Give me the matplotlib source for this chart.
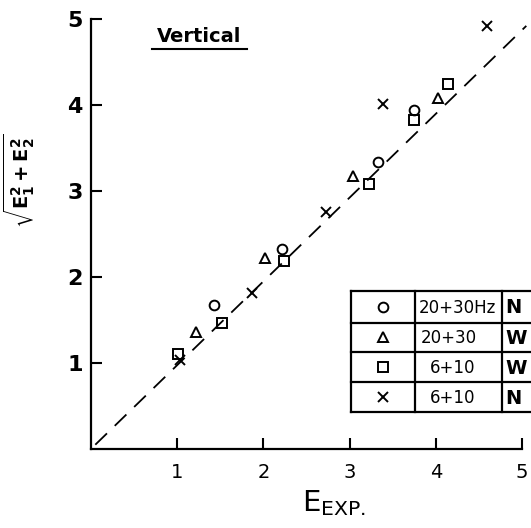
import matplotlib
matplotlib.use("Agg")
import matplotlib.pyplot as plt
from matplotlib.lines import Line2D

# measured values (E_EXP., sqrt(E1^2+E2^2)) for each run
circle_x = [1.43, 2.21, 3.33, 3.75]
circle_y = [1.67, 2.33, 3.34, 3.94]
tri_x = [1.22, 2.02, 3.04, 4.02]
tri_y = [1.36, 2.22, 3.17, 4.08]
square_x = [1.01, 1.52, 2.24, 3.23, 3.75, 4.14]
square_y = [1.11, 1.46, 2.19, 3.08, 3.83, 4.24]
cross_x = [1.03, 1.87, 2.73, 3.39, 4.59]
cross_y = [1.04, 1.81, 2.76, 4.01, 4.92]

ticks = [1, 2, 3, 4, 5]
legend_freq = ["20+30Hz", "20+30", "6+10", "6+10"]
legend_type = ["N", "W", "W", "N"]
legend_marker = ["o", "^", "s", "x"]

W, H = 531, 528
fig = plt.figure(figsize=(W / 100, H / 100), dpi=100)
ax = fig.add_axes([91 / W, 1 - 449 / H, 431 / W, 430 / H])

ms = 7
mew = 1.4
style = dict(linestyle="none", color="black", markerfacecolor="none",
             markersize=ms, markeredgewidth=mew, clip_on=False, zorder=3)
ax.plot(circle_x, circle_y, marker="o", **style)
ax.plot(tri_x, tri_y, marker="^", **style)
ax.plot(square_x, square_y, marker="s", **style)
ax.plot(cross_x, cross_y, marker="x", **style)

# 1:1 reference line
ax.plot([0.05, 5.05], [0.05, 4.92], color="black", lw=1.3,
        dashes=(9, 6), clip_on=False, zorder=2)

ax.set_xlim(0, 5)
ax.set_ylim(0, 5)
ax.set_xticks(ticks)
ax.set_yticks(ticks)
ax.set_xticklabels([str(t) for t in ticks], fontsize=14)
ax.set_yticklabels([str(t) for t in ticks], fontsize=16, fontweight="bold")
ax.tick_params(direction="in", length=8, width=1.5, pad=10)
ax.tick_params(axis="y", pad=6)
for s in ["top", "right"]:
    ax.spines[s].set_visible(False)
for s in ["left", "bottom"]:
    ax.spines[s].set_linewidth(1.6)

ax.set_xlabel(r"E$_{\mathrm{EXP.}}$", fontsize=21, labelpad=6)
ax.xaxis.set_label_coords((334 - 91) / 431, -0.09)
ax.set_ylabel(r"$\mathbf{\sqrt{E_1^2+E_2^2}}$", fontsize=14)
ax.yaxis.set_label_coords(-0.125, (449 - 181) / 430)

# panel title with underline
def fx(px):
    return px / W

def fy(py):
    return 1 - py / H

fig.text(fx(199), fy(37), "Vertical", fontsize=14, fontweight="bold",
         ha="center", va="center")
fig.add_artist(Line2D([fx(152), fx(247)], [fy(49), fy(49)], color="black",
                      lw=1.5, transform=fig.transFigure))

# legend table
col_x = [351, 415, 502, 540]
row_y = [291, 322.7, 351.7, 382.3, 412.3]
lw = 1.6
for y in row_y:
    fig.add_artist(Line2D([fx(col_x[0]), fx(col_x[-1])], [fy(y), fy(y)],
                          color="black", lw=lw, transform=fig.transFigure))
for x in col_x[:3]:
    fig.add_artist(Line2D([fx(x), fx(x)], [fy(row_y[0]), fy(row_y[-1])],
                          color="black", lw=lw, transform=fig.transFigure))
text_left = [419, 421, 430, 430]
for i in range(4):
    yc = (row_y[i] + row_y[i + 1]) / 2
    fig.add_artist(Line2D([fx(383)], [fy(yc)], marker=legend_marker[i],
                          markersize=ms, markerfacecolor="none",
                          markeredgecolor="black", markeredgewidth=mew,
                          linestyle="none", transform=fig.transFigure))
    fig.text(fx(text_left[i]), fy(yc + 1), legend_freq[i], fontsize=12,
             ha="left", va="center")
    fig.text(fx(505), fy(yc + 1), legend_type[i], fontsize=14,
             fontweight="bold", ha="left", va="center")

fig.savefig("out.png", dpi=100)
